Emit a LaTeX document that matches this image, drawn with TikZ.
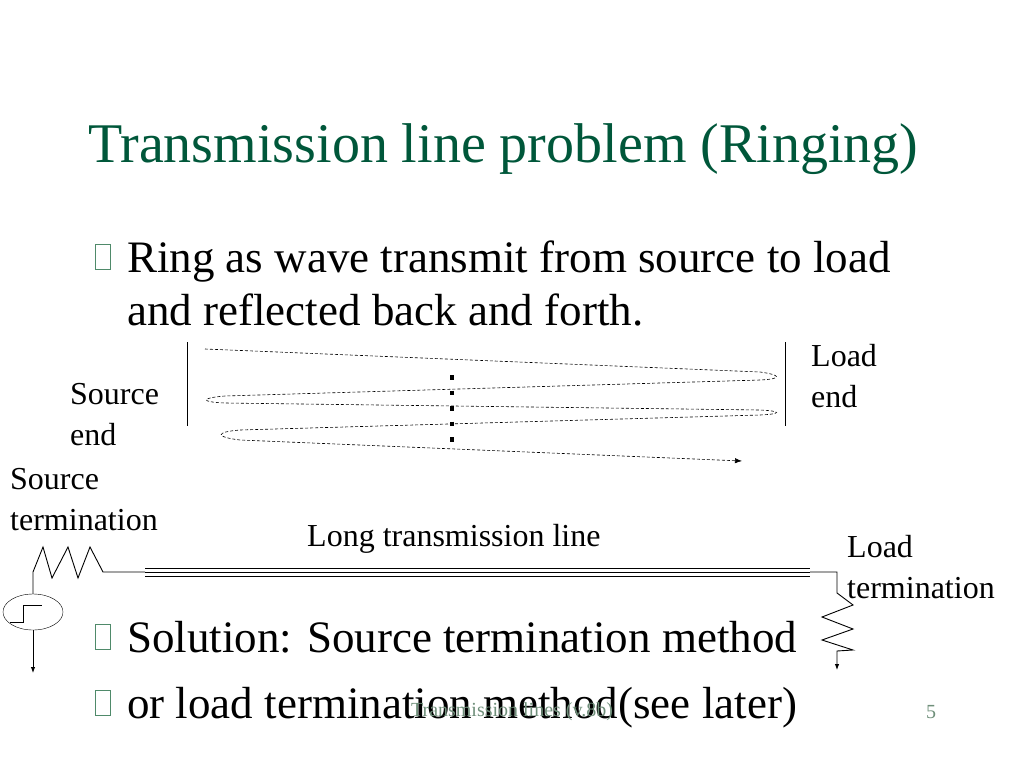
\documentclass[tikz,border=0pt]{standalone}
\usepackage{fontspec}
\setmainfont{Liberation Serif}
\usepackage{tikz}
\usetikzlibrary{positioning, arrows.meta, shapes.geometric}
\definecolor{titlegreen}{HTML}{00573A}
\definecolor{boxgreen}{HTML}{4F8A6A}
\definecolor{footgray}{HTML}{6F8F7A}
\tikzset{
  label/.style={font=\fontsize{32}{41}\selectfont, anchor=base west, inner sep=0pt, align=left},
  bullettext/.style={font=\fontsize{45}{52}\selectfont, anchor=base west, inner sep=0pt},
  bulletbox/.style={draw=boxgreen, line width=1.2pt, minimum width=15pt, minimum height=25pt, inner sep=0pt},
  wave/.style={dashed, semithick, dash pattern=on 3pt off 2pt},
  wire/.style={line width=0.9pt}
}
\begin{document}
\begin{tikzpicture}[x=1pt,y=-1pt]
\useasboundingbox (0,0) rectangle (1024,768);
% Title
\node[anchor=base west, inner sep=0pt, text=titlegreen, font=\fontsize{56}{60}\selectfont] (title) at (88,162) {Transmission line problem (Ringing)};

% Bullets
\node[bulletbox] (b1) at (103,257) {};
\node[bullettext] (t1) at (127,272) {Ring as wave transmit from source to load};
\node[bullettext] (t1b) at (127,325) {and reflected back and forth.};
\node[bulletbox] (b2) at (103,637) {};
\node[bullettext] (t2) at (127,652) {Solution: Source termination method};
\node[bulletbox] (b3) at (103,703) {};
\node[bullettext] (t3) at (127,718) {or load termination method(see later)};

% Footer
\node[text=footgray, font=\fontsize{20}{24}\selectfont] (foot) at (512,712) {Transmission lines (v.8b)};
\node[text=footgray, font=\fontsize{20}{24}\selectfont] (page) at (931,712) {5};

% Labels
\node[label] (srcend) at (70,445) {Source\\end};
\node[label] (loadend) at (811,407) {Load\\end};
\node[label] (srcterm) at (10,530) {Source\\termination};
\node[label] (longline) at (307,546) {Long transmission line};
\node[label] (loadterm) at (847,598) {Load\\termination};

% Reflection walls
\draw[thin] (187,342) -- (187,426);
\draw[thin] (785,342) -- (785,426);

% Bouncing wave
\draw[wave, -{Latex[length=7pt]}]
  (205,349) -- (760,372) .. controls (782,375) and (782,379) .. (760,380)
  -- (225,396) .. controls (200,398) and (200,402) .. (225,403)
  -- (760,410) .. controls (782,411) and (782,414) .. (760,415)
  -- (240,430) .. controls (215,432) and (215,437) .. (240,440)
  -- (742,461);
\draw[line width=4.5pt, dash pattern=on 4.5pt off 11pt] (452,375) -- (452,442);

% Source circuit
\node[draw, ellipse, minimum width=60pt, minimum height=36pt, inner sep=0pt, thin] (src) at (33,612) {};
\draw[thin] (10,622) -- (23,622) -- (23,605) -- (42,605);
\draw[wire] (src.north) -- (33,572) -- (43,547) -- (52,578) -- (68,547) -- (78,578) -- (90,547) -- (103,572) -- (145,572);
\draw[wire, -{Latex[length=6pt]}] (src.south) -- (33,673);

% Long line
\foreach \y in {568,572,576}{
  \draw[wire] (145,\y) -- (810,\y);
}

% Load termination
\draw[wire, -{Latex[length=6pt]}] (810,572) -- (837,572) -- (837,593) -- (853,605) -- (822,617) -- (853,629) -- (822,640) -- (853,650) -- (837,651) -- (837,670);
\end{tikzpicture}
\end{document}
